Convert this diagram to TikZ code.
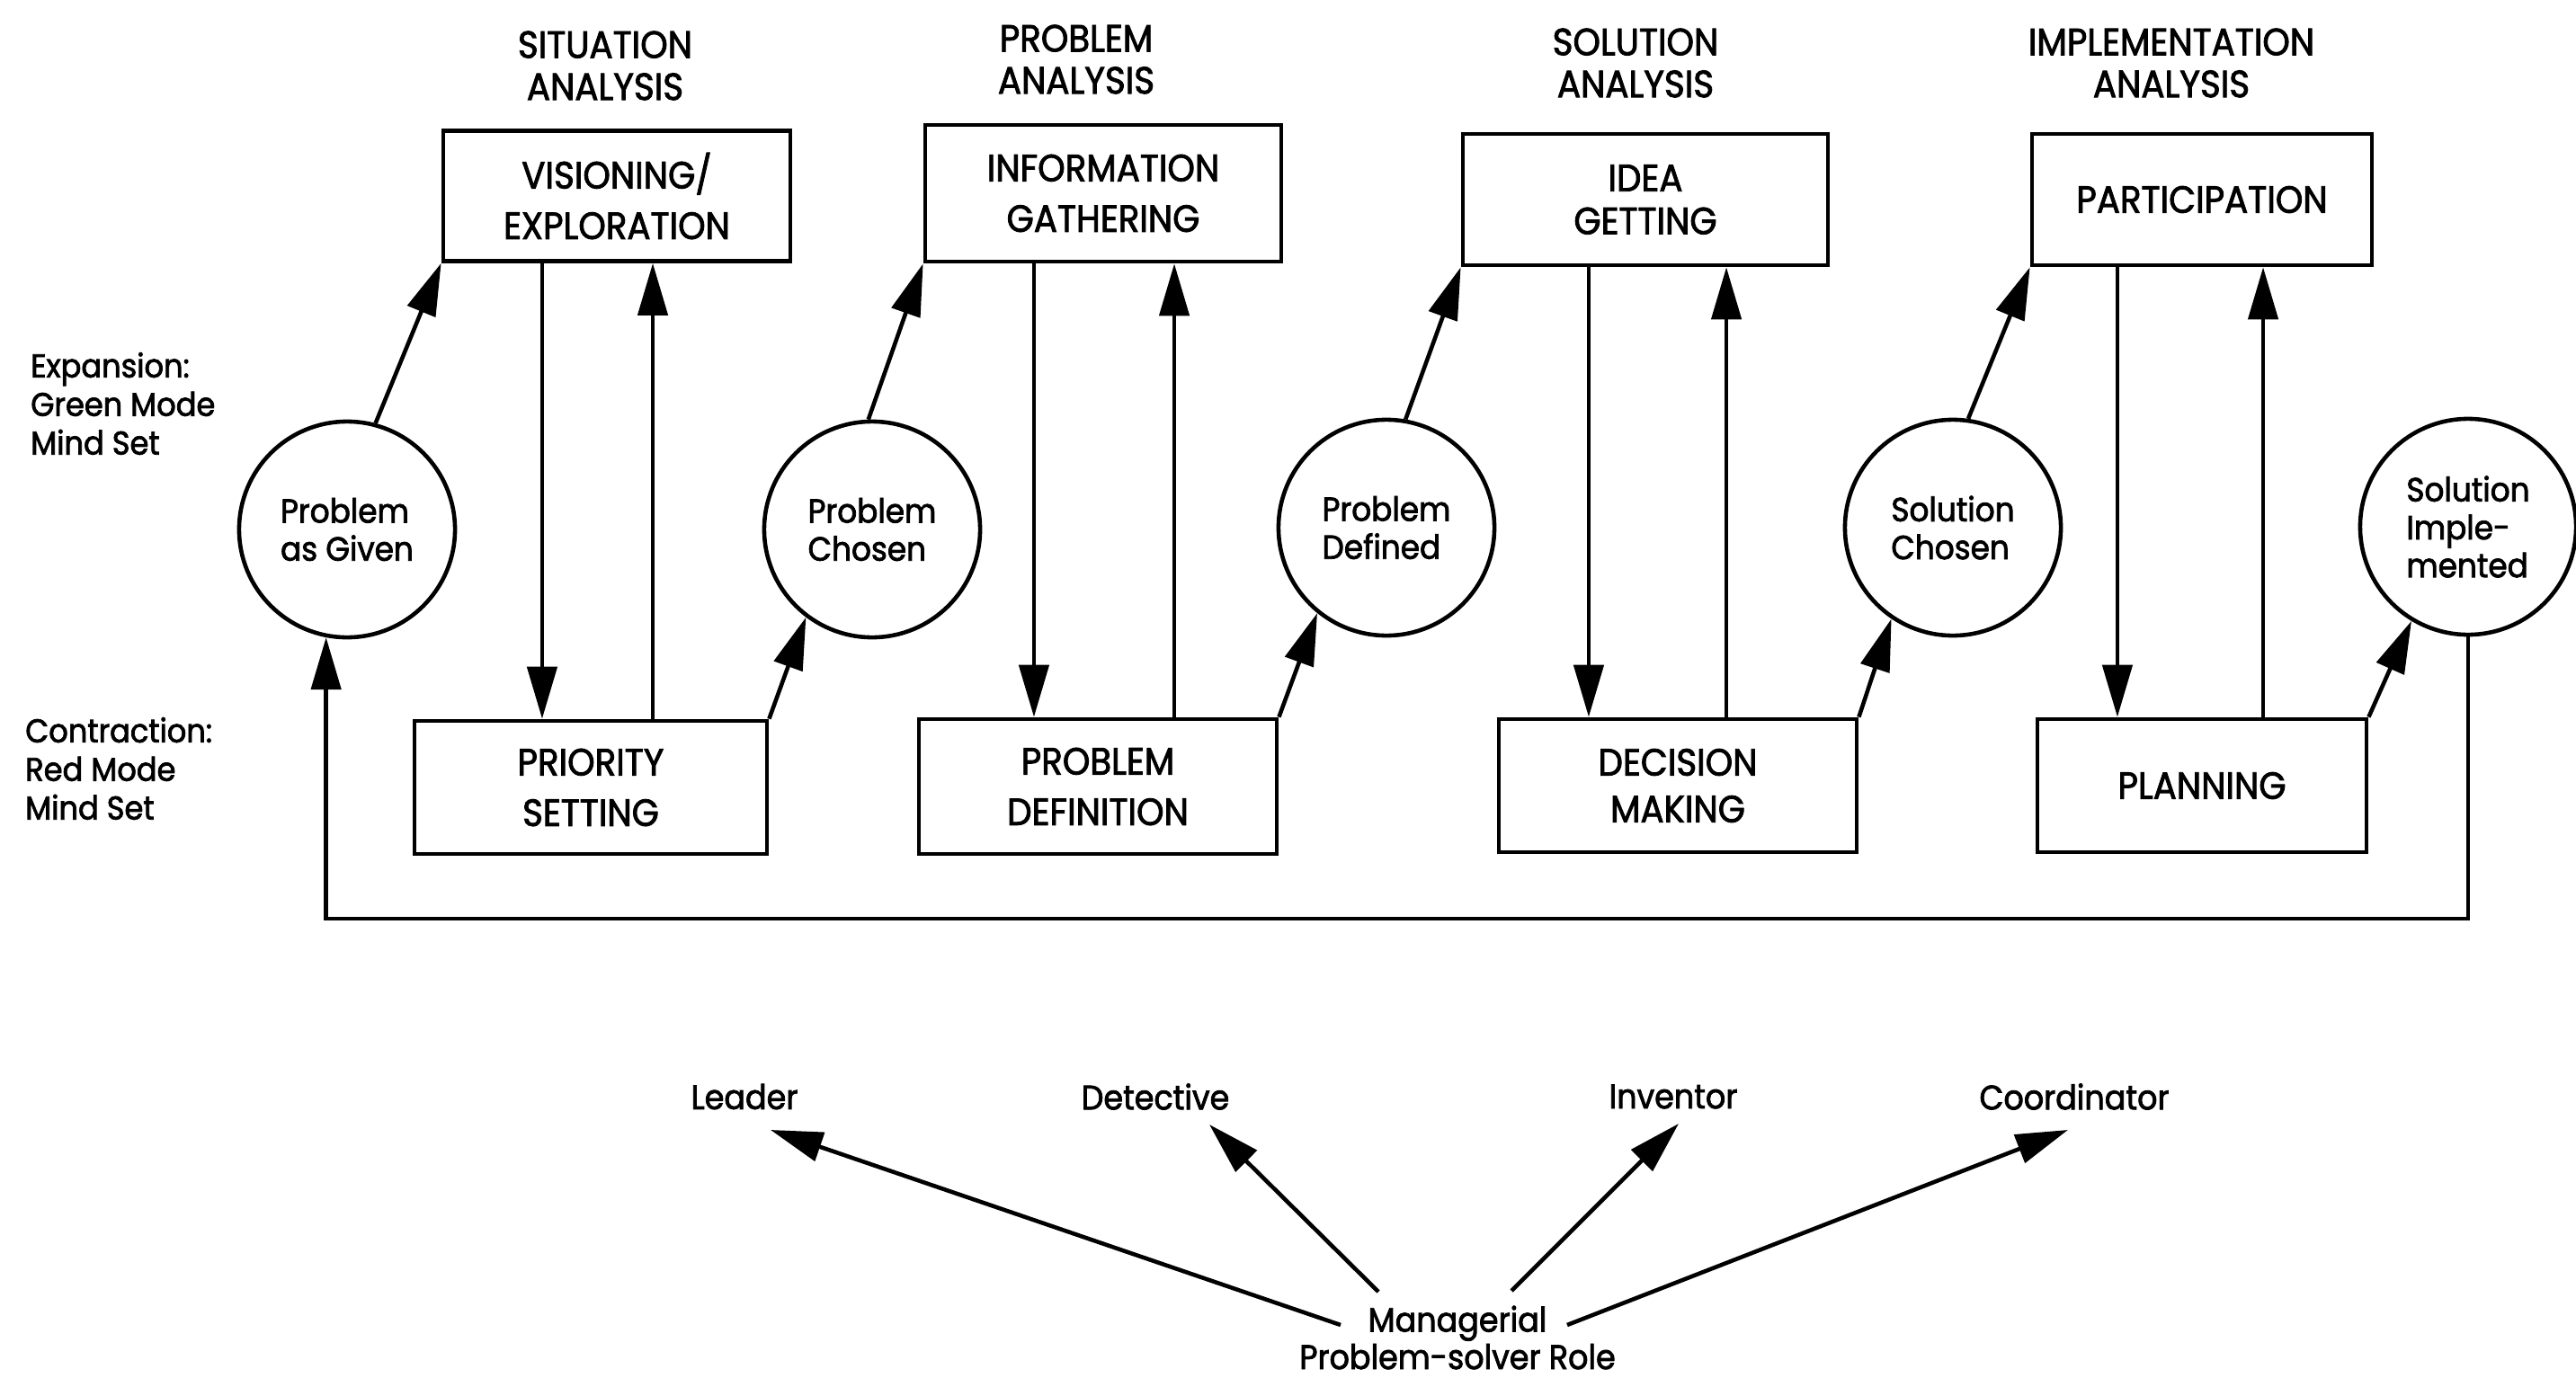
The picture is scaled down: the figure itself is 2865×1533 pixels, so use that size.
\documentclass[tikz,border=0pt]{standalone}
\usepackage{fontspec}
\setmainfont{Poppins}[FakeStretch=0.92, FakeBold=2]
\usetikzlibrary{arrows.meta,calc}
\begin{document}
\begin{tikzpicture}[x=0.01cm,y=-0.01cm,
  line width=1.3pt,
  arr/.style={-{Triangle[length=0.58cm,width=0.33cm]}},
  box/.style={draw, align=center, inner sep=0pt, font=\fontsize{12}{16}\selectfont},
  state/.style={draw, circle, minimum size=2.4cm, inner sep=0pt, align=left,
    font=\fontsize{10.6}{12}\selectfont},
  head/.style={align=center, inner sep=0pt, font=\fontsize{12}{13.3}\selectfont},
  side/.style={align=left, anchor=west, inner sep=0pt, font=\fontsize{10.4}{12.2}\selectfont},
  role/.style={inner sep=0pt, font=\fontsize{10.8}{12.2}\selectfont},
]
\useasboundingbox (0,0) rectangle (2865,1533);

% phase headings
\node[head] (t1) at (673,73) {SITUATION\\ANALYSIS};
\node[head] (t2) at (1197,66) {PROBLEM\\ANALYSIS};
\node[head] (t3) at (1819,70) {SOLUTION\\ANALYSIS};
\node[head] (t4) at (2415,70) {IMPLEMENTATION\\ANALYSIS};

% mind-set labels
\node[side] (exp) at (32,449) {Expansion:\\Green Mode\\Mind Set};
\node[side] (con) at (26,855) {Contraction:\\Red Mode\\Mind Set};

% expansion (upper) activities
\node[box, minimum width=3.86cm, minimum height=1.45cm] (vis) at (686,218) {VISIONING/\\EXPLORATION};
\node[box, minimum width=3.96cm, minimum height=1.52cm] (info) at (1227,215) {INFORMATION\\GATHERING};
\node[box, minimum width=4.06cm, minimum height=1.46cm, font=\fontsize{12}{13.6}\selectfont] (idea) at (1830,222) {IDEA\\GETTING};
\node[box, minimum width=3.78cm, minimum height=1.46cm] (part) at (2449,222) {PARTICIPATION};

% contraction (lower) activities
\node[box, minimum width=3.92cm, minimum height=1.48cm] (pri) at (657,876) {PRIORITY\\SETTING};
\node[box, minimum width=3.98cm, minimum height=1.50cm] (def) at (1221,875) {PROBLEM\\DEFINITION};
\node[box, minimum width=3.98cm, minimum height=1.48cm, font=\fontsize{12}{14.8}\selectfont] (dec) at (1866,874) {DECISION\\MAKING};
\node[box, minimum width=3.66cm, minimum height=1.48cm] (plan) at (2449,874) {PLANNING};

% intermediate states
\node[state] (c1) at (386,589) {Problem\\as Given};
\node[state] (c2) at (970,589) {Problem\\Chosen};
\node[state] (c3) at (1542,587) {Problem\\Defined};
\node[state] (c4) at (2172,587) {Solution\\Chosen};
\node[state] (c5) at (2745,586) {Solution\\Imple-\\mented};

% situation analysis
\draw[arr] (c1.75) -- (vis.south west);
\draw[arr] ([xshift=-0.83cm]vis.south) -- ([xshift=-0.83cm]vis.south |- pri.north);
\draw[arr] ([xshift=0.40cm]vis.south |- pri.north) -- ([xshift=0.40cm]vis.south);
\draw[arr] (pri.north east) -- (c2.233);

% problem analysis
\draw[arr] (c2.92) -- (info.south west);
\draw[arr] ([xshift=-0.77cm]info.south) -- ([xshift=-0.77cm]info.south |- def.north);
\draw[arr] ([xshift=0.79cm]info.south |- def.north) -- ([xshift=0.79cm]info.south);
\draw[arr] (def.north east) -- (c3.231);

% solution analysis
\draw[arr] (c3.80) -- (idea.south west);
\draw[arr] ([xshift=-0.63cm]idea.south) -- ([xshift=-0.63cm]idea.south |- dec.north);
\draw[arr] ([xshift=0.90cm]idea.south |- dec.north) -- ([xshift=0.90cm]idea.south);
\draw[arr] (dec.north east) -- (c4.236);

% implementation analysis
\draw[arr] (c4.82) -- (part.south west);
\draw[arr] ([xshift=-0.94cm]part.south) -- ([xshift=-0.94cm]part.south |- plan.north);
\draw[arr] ([xshift=0.68cm]part.south |- plan.north) -- ([xshift=0.68cm]part.south);
\draw[arr] (plan.north east) -- (c5.239);

% feedback loop back to the start
\coordinate (loop) at (c1.259 |- 0,1022);
\draw[arr] (c5.south) |- (loop) -- (c1.259);

% problem-solver roles
\node[role] (leader) at (828,1220) {Leader};
\node[role] (detective) at (1285,1220) {Detective};
\node[role] (inventor) at (1861,1220) {Inventor};
\node[role] (coord) at (2307,1220) {Coordinator};
\node[role, align=center, font=\fontsize{10.8}{11.8}\selectfont] (mgr) at (1621,1488) {Managerial\\Problem-solver Role};

\draw[arr] ($(mgr.center)+(-130,-14)$) -- ($(leader.center)+(29,37)$);
\draw[arr] ($(mgr.center)+(-88,-51)$) -- ($(detective.center)+(60,31)$);
\draw[arr] ($(mgr.center)+(60,-52)$) -- ($(inventor.center)+(6,30)$);
\draw[arr] ($(mgr.center)+(122,-14)$) -- ($(coord.center)+(-7,37)$);
\end{tikzpicture}
\end{document}
